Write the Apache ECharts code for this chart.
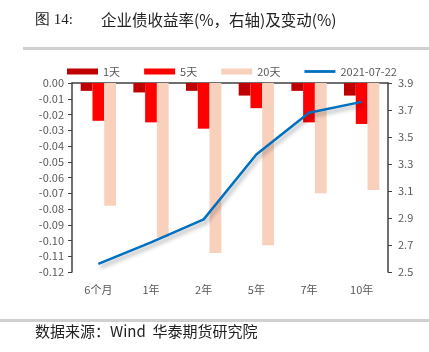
<!DOCTYPE html>
<html lang="zh">
<head>
    <meta charset="UTF-8">
    <title>企业债收益率</title>
    <script src="https://cdn.jsdelivr.net/npm/echarts@6/dist/echarts.min.js"></script>
    <style>
        html, body { margin: 0; padding: 0; background: #fff; }
        #chart { width: 429px; height: 352px; }
    </style>
</head>
<body>
    <div id="chart"></div>
    <script>
        // 数据
        const categories = ['6个月', '1年', '2年', '5年', '7年', '10年'];
        const chg1d = [-0.005, -0.006, -0.005, -0.008, -0.005, -0.008];
        const chg5d = [-0.024, -0.025, -0.029, -0.016, -0.025, -0.026];
        const chg20d = [-0.078, -0.098, -0.108, -0.103, -0.070, -0.068];
        const yield0722 = [2.56, 2.72, 2.89, 3.37, 3.68, 3.76];

        const labelColor = '#595959';
        const axisColor = '#404040';
        const font = '"Noto Sans CJK SC", "Liberation Sans", sans-serif';

        const chart = echarts.init(document.getElementById('chart'));
        chart.setOption({
            animation: false,
            textStyle: { fontFamily: font },
            grid: { left: 72, right: 41, top: 83, bottom: 80 },
            legend: {
                left: 62, top: 61,
                itemWidth: 31, itemHeight: 6, itemGap: 24,
                textStyle: { color: labelColor, fontSize: 11, fontFamily: font },
                data: [
                    { name: '1天', icon: 'rect' },
                    { name: '5天', icon: 'rect' },
                    { name: '20天', icon: 'rect' },
                    { name: '2021-07-22', icon: 'path://M0,0 L100,0 L100,9 L0,9 Z' }
                ]
            },
            xAxis: [{
                type: 'category',
                data: categories,
                position: 'bottom',
                axisLine: { show: false },
                axisTick: { show: false },
                axisLabel: { color: labelColor, fontSize: 11, margin: 12 }
            }, {
                type: 'category',
                data: categories,
                position: 'top',
                axisLine: { lineStyle: { color: axisColor, width: 1.5 } },
                axisTick: { inside: true, length: 4, lineStyle: { color: axisColor } },
                axisLabel: { show: false }
            }],
            yAxis: [{
                type: 'value',
                min: -0.12, max: 0, interval: 0.01,
                axisLine: { show: true, lineStyle: { color: axisColor, width: 1.5 } },
                axisTick: { show: true, length: 4, lineStyle: { color: axisColor } },
                splitLine: { show: false },
                axisLabel: { color: labelColor, fontSize: 11, margin: 8,
                    formatter: v => v.toFixed(2) }
            }, {
                type: 'value',
                min: 2.5, max: 3.9, interval: 0.2,
                position: 'right',
                axisLine: { show: true, lineStyle: { color: axisColor, width: 1.5 } },
                axisTick: { show: true, length: 4, lineStyle: { color: axisColor } },
                splitLine: { show: false },
                axisLabel: { color: labelColor, fontSize: 11, margin: 10,
                    formatter: v => v.toFixed(1) }
            }],
            series: [
                { name: '1天', type: 'bar', data: chg1d, barGap: '0%', barCategoryGap: '33%',
                  itemStyle: { color: '#C00000' } },
                { name: '5天', type: 'bar', data: chg5d, barGap: '0%', barCategoryGap: '33%',
                  itemStyle: { color: '#FF0000' } },
                { name: '20天', type: 'bar', data: chg20d, barGap: '0%', barCategoryGap: '33%',
                  itemStyle: { color: '#F9D0BC' } },
                { name: '2021-07-22', type: 'line', yAxisIndex: 1, data: yield0722,
                  symbol: 'none', showSymbol: false,
                  lineStyle: { color: '#0070C0', width: 2.5,
                      shadowColor: 'rgba(0,0,0,0.35)', shadowBlur: 4, shadowOffsetX: 2, shadowOffsetY: 3 },
                  itemStyle: { color: '#0070C0' } }
            ],
            graphic: [
                { type: 'text', left: 35, top: 13,
                  style: { text: '图 14:', fontSize: 15, fill: '#222', fontFamily: '"Liberation Serif", serif' } },
                { type: 'text', left: 101, top: 12,
                  style: { text: '企业债收益率(%，右轴)及变动(%)', fontSize: 15.5, fill: '#222', fontFamily: font } },
                { type: 'rect', shape: { x: 23, y: 47, width: 406, height: 3 }, style: { fill: '#D0D0D0' } },
                { type: 'rect', shape: { x: 0, y: 319, width: 429, height: 3 }, style: { fill: '#D0D0D0' } },
                { type: 'text', left: 35, top: 324,
                  style: { text: '数据来源：Wind  华泰期货研究院', fontSize: 15, fill: '#222', fontFamily: font } }
            ]
        });
    </script>
</body>
</html>
